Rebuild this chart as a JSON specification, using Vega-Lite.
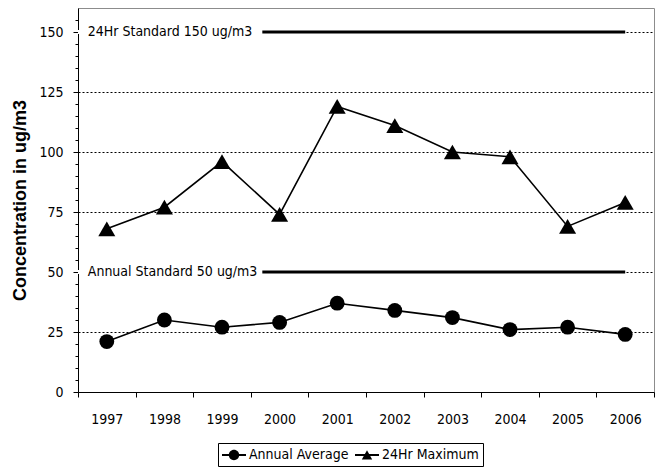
{
  "$schema": "https://vega.github.io/schema/vega-lite/v6.json",
  "width": 576,
  "height": 384,
  "autosize": {"type": "none"},
  "padding": {"left": 78, "top": 8, "right": 5, "bottom": 81},
  "background": "white",
  "config": {
    "view": {"stroke": "#8c8c8c", "strokeWidth": 1},
    "font": "DejaVu Sans Condensed, Liberation Sans, sans-serif",
    "axis": {"labelFont": "DejaVu Sans Condensed, Liberation Sans, sans-serif", "labelFontSize": 14, "labelColor": "black", "domainColor": "black", "tickColor": "black", "domainWidth": 1}
  },
  "datasets": {
    "series": [
      {"year": "1997", "series": "Annual Average", "value": 21},
      {"year": "1998", "series": "Annual Average", "value": 30},
      {"year": "1999", "series": "Annual Average", "value": 27},
      {"year": "2000", "series": "Annual Average", "value": 29},
      {"year": "2001", "series": "Annual Average", "value": 37},
      {"year": "2002", "series": "Annual Average", "value": 34},
      {"year": "2003", "series": "Annual Average", "value": 31},
      {"year": "2004", "series": "Annual Average", "value": 26},
      {"year": "2005", "series": "Annual Average", "value": 27},
      {"year": "2006", "series": "Annual Average", "value": 24},
      {"year": "1997", "series": "24Hr Maximum", "value": 68},
      {"year": "1998", "series": "24Hr Maximum", "value": 77},
      {"year": "1999", "series": "24Hr Maximum", "value": 96},
      {"year": "2000", "series": "24Hr Maximum", "value": 74},
      {"year": "2001", "series": "24Hr Maximum", "value": 119},
      {"year": "2002", "series": "24Hr Maximum", "value": 111},
      {"year": "2003", "series": "24Hr Maximum", "value": 100},
      {"year": "2004", "series": "24Hr Maximum", "value": 98},
      {"year": "2005", "series": "24Hr Maximum", "value": 69},
      {"year": "2006", "series": "24Hr Maximum", "value": 79}
    ],
    "standards": [
      {"label": "24Hr Standard 150 ug/m3", "value": 150, "labelYear": "1997", "start": "2000", "end": "2006"},
      {"label": "Annual Standard 50 ug/m3", "value": 50, "labelYear": "1997", "start": "2000", "end": "2006"}
    ]
  },
  "encoding": {
    "y": {"field": "value", "type": "quantitative",
      "scale": {"domain": [0, 160], "nice": false},
      "axis": {
        "title": "Concentration in ug/m3",
        "titleFont": "Liberation Sans", "titleFontWeight": "bold", "titleFontSize": 18, "titleColor": "black",
        "titlePadding": 9,
        "values": [0,5,10,15,20,25,30,35,40,45,50,55,60,65,70,75,80,85,90,95,100,105,110,115,120,125,130,135,140,145,150,155],
        "labelExpr": "datum.value % 25 === 0 ? datum.label : ''",
        "labelOverlap": false,
        "tickSize": {"condition": {"test": "datum.value % 25 === 0", "value": 5}, "value": 3},
        "labelPadding": 10,
        "grid": true,
        "gridColor": "black",
        "gridDash": [2, 2],
        "gridWidth": 1,
        "gridOpacity": {"condition": {"test": "datum.value % 25 === 0 && datum.value > 0", "value": 1}, "value": 0}
      }}
  },
  "layer": [
    {
      "data": {"name": "standards"},
      "mark": {"type": "rule", "color": "white", "strokeWidth": 4},
      "encoding": {
        "x": {"field": "labelYear", "type": "ordinal", "bandPosition": 0,
          "scale": {"domain": ["1997","1998","1999","2000","2001","2002","2003","2004","2005","2006"], "paddingInner": 0, "paddingOuter": 0},
          "axis": {"title": null, "labelAngle": 0, "tickBand": "extent", "tickSize": 5, "labelPadding": 15, "grid": false, "domainColor": "black"}},
        "x2": {"field": "end", "bandPosition": 0.5}
      }
    },
    {
      "data": {"name": "standards"},
      "mark": {"type": "rule", "color": "black", "strokeWidth": 3},
      "encoding": {
        "x": {"field": "start", "type": "ordinal", "bandPosition": 0.2},
        "x2": {"field": "end", "bandPosition": 0.5}
      }
    },
    {
      "data": {"name": "standards"},
      "mark": {"type": "text", "align": "left", "baseline": "middle", "fontSize": 14, "font": "DejaVu Sans Condensed, Liberation Sans, sans-serif", "color": "black"},
      "encoding": {
        "x": {"field": "labelYear", "type": "ordinal", "bandPosition": 0.17},
        "text": {"field": "label"}
      }
    },
    {
      "data": {"name": "series"},
      "mark": {"type": "line", "color": "black", "strokeWidth": 1.6},
      "encoding": {
        "x": {"field": "year", "type": "ordinal"},
        "detail": {"field": "series"}
      }
    },
    {
      "data": {"name": "series"},
      "mark": {"type": "point", "filled": true, "color": "black", "opacity": 1},
      "encoding": {
        "x": {"field": "year", "type": "ordinal"},
        "shape": {"field": "series", "type": "nominal",
          "scale": {"domain": ["Annual Average", "24Hr Maximum"], "range": ["circle", "triangle-up"]},
          "legend": null},
        "size": {"field": "series", "type": "nominal",
          "scale": {"domain": ["Annual Average", "24Hr Maximum"], "range": [220, 290]},
          "legend": null}
      }
    },
    {
      "data": {"name": "series"},
      "transform": [{"filter": "datum.value < 0"}],
      "mark": {"type": "point", "filled": true, "color": "black", "opacity": 1, "size": 256},
      "encoding": {
        "x": {"field": "year", "type": "ordinal"},
        "shape": {"field": "series", "type": "nominal",
          "scale": {"domain": ["Annual Average", "24Hr Maximum"], "range": [
            "M-1,-0.12H2V0.12H-1Z M1.15,0 A0.65,0.65 0 1,1 -0.15,0 A0.65,0.65 0 1,1 1.15,0Z",
            "M-1,-0.12H2V0.12H-1Z M0.5,-0.6L1.15,0.55L-0.15,0.55Z"]},
          "legend": {
            "title": null,
            "orient": "none",
            "legendX": 140,
            "legendY": 435,
            "direction": "horizontal",
            "strokeColor": "black",
            "fillColor": "white",
            "padding": 4,
            "labelFont": "DejaVu Sans Condensed, Liberation Sans, sans-serif",
            "labelFontSize": 14,
            "labelColor": "black",
            "symbolSize": 256,
            "symbolFillColor": "black",
            "symbolStrokeWidth": 0,
            "symbolOpacity": 1,
            "columnPadding": 6,
            "labelOffset": 11
          }}
      }
    }
  ],
  "resolve": {"scale": {"shape": "independent", "size": "independent"}}
}
